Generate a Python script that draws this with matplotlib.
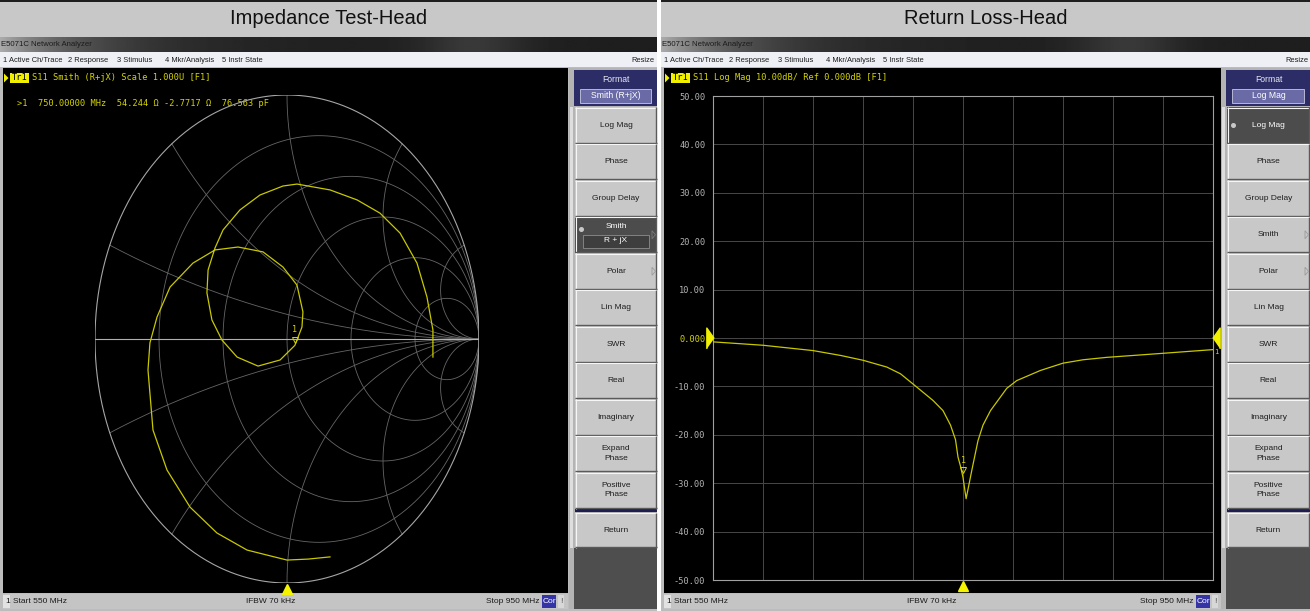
import numpy as np
import matplotlib.pyplot as plt
from matplotlib.patches import Rectangle, Polygon
from matplotlib.transforms import offset_copy

W, H = 1310, 611

# sweep settings / marker readout
freq_start = 550   # MHz
freq_stop = 950
ifbw = '70 kHz'
marker_freq = 750.0
marker_R = 54.244
marker_X = -2.7717
marker_C = 76.563
marker_db = -28.822

# S11 on the Smith chart (reflection coefficient, 550 -> 950 MHz)
smith_re = [0.224, 0.110, 0.000, -0.208, -0.365, -0.505, -0.625, -0.698, -0.724, -0.714,
            -0.677, -0.609, -0.490, -0.375, -0.255, -0.125, -0.021, 0.052, 0.083, 0.078,
            0.041, -0.036, -0.151, -0.260, -0.339, -0.391, -0.417, -0.411, -0.375, -0.333,
            -0.245, -0.141, -0.021, 0.052, 0.224, 0.365, 0.484, 0.589, 0.677, 0.729,
            0.760, 0.760]
smith_im = [-0.893, -0.902, -0.906, -0.865, -0.795, -0.689, -0.537, -0.373, -0.127, -0.016,
            0.090, 0.213, 0.311, 0.365, 0.377, 0.357, 0.295, 0.221, 0.111, 0.049,
            -0.026, -0.086, -0.111, -0.074, -0.004, 0.078, 0.189, 0.283, 0.373, 0.447,
            0.529, 0.590, 0.627, 0.635, 0.611, 0.570, 0.516, 0.434, 0.311, 0.172,
            0.037, -0.074]

# S11 log magnitude
logmag_freq = [550, 590, 630, 652, 670, 689, 700, 710, 718, 726, 734, 740, 744, 746, 748,
               750, 752.5, 757, 762, 766, 772, 785, 793, 812, 830, 846, 865, 908, 950]
logmag_db = [-0.8, -1.5, -2.6, -3.6, -4.6, -6.0, -7.4, -9.5, -11.2, -12.9, -15.0, -18.0,
             -21.0, -24.6, -26.5, -28.8, -33.2, -27.4, -21.2, -18.0, -15.0, -10.4, -8.8,
             -6.7, -5.2, -4.5, -4.0, -3.2, -2.4]

smith_r = [0.2, 0.5, 1, 2, 5]
smith_x = [0.2, 0.5, 1, 2, 5]
db_ticks = [50, 40, 30, 20, 10, 0, -10, -20, -30, -40, -50]
softkeys = ['Log Mag', 'Phase', 'Group Delay', 'Smith', 'Polar', 'Lin Mag', 'SWR', 'Real',
            'Imaginary', 'Expand\nPhase', 'Positive\nPhase']
menu_items = ['1 Active Ch/Trace', '2 Response', '3 Stimulus', '4 Mkr/Analysis', '5 Instr State']
menu_x = [3, 68, 117, 165, 222]

YEL = '#d4d400'
TRACE = '#c8c800'
UI = 'Liberation Sans'
MONO = 'DejaVu Sans Mono'

fig = plt.figure(figsize=(W / 100, H / 100), dpi=100)
fig.patch.set_facecolor('white')
bg = fig.add_axes([0, 0, 1, 1])
bg.axis('off')


def rect(x0, y0, x1, y1, fc, ec='none', lw=0, z=1):
    bg.add_patch(Rectangle((x0, y0), x1 - x0, y1 - y0, fc=fc, ec=ec, lw=lw, zorder=z))


def line(xs, ys, c, lw=0.8, z=3):
    bg.plot(xs, ys, color=c, lw=lw, zorder=z, solid_capstyle='butt')


def draw_panel(x0, x1, scr1, k0, title, fmt, selected):
    # caption band
    rect(x0, 0, x1, 37, '#c8c8c8')
    line([x0, x1], [0.8, 0.8], '#1a1a1a', 1.4)
    bg.text((x0 + x1) / 2, 19, title, ha='center', va='center', fontsize=14.5, family=UI, color='#111111')
    # window title bar
    xs = np.linspace(0, 1, 400)
    shade = 0.12 + 0.55 * np.exp(-xs * 8) + 0.10 * np.exp(-((xs - 0.72) / 0.08) ** 2)
    bg.imshow(np.tile(shade, (2, 1)), cmap='gray', vmin=0, vmax=1, extent=(x0, x1, 52, 37),
              aspect='auto', zorder=1, interpolation='bilinear')
    bg.text(x0 + 1, 45, 'E5071C Network Analyzer', ha='left', va='center', fontsize=5.6, family=UI, color='#1c1c1c', zorder=4)
    # menu bar
    rect(x0, 52, x1, 67, '#eef0f5')
    for lab, mx in zip(menu_items, menu_x):
        bg.text(x0 + mx, 60, lab, ha='left', va='center', fontsize=5.4, family=UI, color='#1a1a1a', zorder=4)
    bg.text(x1 - 2, 60, 'Resize', ha='right', va='center', fontsize=5.4, family=UI, color='#1a1a1a', zorder=4)
    # screen + frame
    rect(x0, 67, x1, 611, '#bcbcbc')
    rect(x0 + 3, 68, scr1, 593, 'black')
    # status bar
    rect(x0 + 3, 594, scr1, 609, '#c4c4c4')
    rect(x0 + 3, 595, x0 + 10, 608, '#e2e2e2')
    st = dict(va='center', fontsize=6, family=UI, color='#1a1a1a', zorder=4)
    bg.text(x0 + 5, 601.5, '1', ha='left', **st)
    bg.text(x0 + 13, 601.5, f'Start {freq_start} MHz', ha='left', **st)
    bg.text(x0 + 271, 601.5, f'IFBW {ifbw}', ha='center', **st)
    bg.text(scr1 - 28, 601.5, f'Stop {freq_stop} MHz', ha='right', **st)
    rect(scr1 - 26, 595, scr1 - 12, 608, '#3434a6')
    bg.text(scr1 - 19, 601.5, 'Cor', ha='center', va='center', fontsize=6, family=UI, color='white', zorder=4)
    rect(scr1 - 10, 595, scr1 - 4, 608, '#d8d8d8')
    bg.text(scr1 - 7, 601.5, '!', ha='center', va='center', fontsize=6, family=UI, color='#555555', zorder=4)
    # softkey column
    rect(k0 - 6, 68, x1, 609, '#b4b4b4')
    rect(k0 - 5, 107, k0 - 2, 548, '#dedede')
    rect(k0 - 1, 70, x1, 106, '#2c2c66')
    bg.text((k0 + x1) / 2, 80, 'Format', ha='center', va='center', fontsize=6.2, family=UI, color='#e8e8f4', zorder=4)
    rect(k0 + 5, 89, x1 - 6, 103, '#6a6aa6', ec='#c8c8e4', lw=0.6, z=2)
    bg.text((k0 + x1) / 2, 96, fmt, ha='center', va='center', fontsize=6.2, family=UI, color='white', zorder=4)
    step = 36.5
    for i, lab in enumerate(softkeys):
        t = 107 + i * step
        b = t + step
        draw_key(k0, x1, t, b, lab, selected == lab, lab in ('Smith', 'Polar'))
    rect(k0, 509, x1, 512, '#1e1e52', z=2)
    draw_key(k0, x1, 512.5, 548, 'Return', False, False)
    rect(k0 - 1, 548, x1, 609, '#4e4e4e', z=2)


def draw_key(k0, x1, t, b, lab, sel, arrow):
    fc = '#4c4c4c' if sel else '#c8c8c8'
    rect(k0, t, x1, b, fc, z=2)
    line([k0, x1], [t + 0.6, t + 0.6], '#f6f6f6', 0.8)
    line([k0 + 0.6, k0 + 0.6], [t, b], '#f6f6f6', 0.8)
    line([k0, x1], [b - 0.7, b - 0.7], '#5a5a5a', 1.0)
    line([x1 - 0.7, x1 - 0.7], [t, b], '#5a5a5a', 1.0)
    cx = (k0 + x1) / 2
    col = 'white' if sel else '#1e1e1e'
    if sel and lab == 'Smith':
        bg.text(cx, t + 10, lab, ha='center', va='center', fontsize=6.0, family=UI, color=col, zorder=4)
        rect(k0 + 8, t + 18, x1 - 8, t + 31, '#3e3e3e', ec='#8c8c8c', lw=0.6, z=3)
        bg.text(cx, t + 24.5, 'R + jX', ha='center', va='center', fontsize=6.0, family=UI, color=col, zorder=4)
    else:
        bg.text(cx, (t + b) / 2, lab, ha='center', va='center', fontsize=6.0, family=UI, color=col,
                linespacing=1.5, zorder=4)
    if sel:
        bg.plot(k0 + 6, (t + b) / 2 - (6 if lab == 'Smith' else 0), 'o', ms=2.6, color='#c8c8c8', zorder=5)
    if arrow:
        yc = (t + b) / 2
        bg.add_patch(Polygon([(x1 - 5, yc - 4), (x1 - 5, yc + 4), (x1 - 1.5, yc)], closed=True,
                             fc='none', ec='#9c9c9c' if not sel else '#7a7a7a', lw=0.6, zorder=5))


def trace_header(x0, text, readout, rx):
    bg.add_patch(Polygon([(x0 + 4, 73.5), (x0 + 4, 82.5), (x0 + 8.5, 78)], closed=True, fc='#f0f000', ec='none', zorder=4))
    rect(x0 + 10, 73, x0 + 29, 83, '#f0f000', z=4)
    bg.text(x0 + 19.5, 78, 'Tr1', ha='center', va='center', fontsize=6.2, family=MONO, color='black', zorder=5)
    bg.text(x0 + 32, 78, text, ha='left', va='center', fontsize=6.2, family=MONO, color=YEL, zorder=5)
    bg.text(rx, 104, readout, ha='left', va='center', fontsize=6.2, family=MONO, color=YEL, zorder=5)


draw_panel(0, 657, 568, 575, 'Impedance Test-Head', 'Smith (R+jX)', 'Smith')
draw_panel(661, 1310, 1222, 1227, 'Return Loss-Head', 'Log Mag', 'Log Mag')

trace_header(0, 'S11 Smith (R+jX) Scale 1.000U [F1]',
             f'>1  {marker_freq:.5f} MHz  {marker_R:.3f} \u03a9 {marker_X:.4f} \u03a9  {marker_C:.3f} pF', 17)
trace_header(661, 'S11 Log Mag 10.00dB/ Ref 0.000dB [F1]',
             f'>1  {marker_freq:.5f} MHz {marker_db:.3f} dB', 717)

bg.set_xlim(0, W)
bg.set_ylim(H, 0)

# ---------------- Smith chart ----------------
ax_s = fig.add_axes([95 / W, 1 - 583 / H, 384 / W, 488 / H])
ax_s.set_xlim(-1, 1)
ax_s.set_ylim(-1, 1)
ax_s.axis('off')
ax_s.patch.set_alpha(0)

u = np.tan(np.linspace(-np.pi / 2 + 1e-3, np.pi / 2 - 1e-3, 800))
for r in smith_r:
    g = (r + 1j * u - 1) / (r + 1j * u + 1)
    ax_s.plot(g.real, g.imag, color='#666666', lw=0.6, zorder=1)
v = np.tan(np.linspace(0, np.pi / 2 - 1e-3, 600))
for x in smith_x:
    for sx in (x, -x):
        g = (v + 1j * sx - 1) / (v + 1j * sx + 1)
        ax_s.plot(g.real, g.imag, color='#666666', lw=0.6, zorder=1)
t = np.linspace(0, 2 * np.pi, 500)
ax_s.plot(np.cos(t), np.sin(t), color='#a6a6a6', lw=0.8, zorder=2)
ax_s.plot([-1, 1], [0, 0], color='#b0b0b0', lw=0.8, zorder=2)

ax_s.plot(smith_re, smith_im, color=TRACE, lw=0.9, zorder=3)

zm = complex(marker_R, marker_X) / 50
gm = (zm - 1) / (zm + 1)
ax_s.plot(gm.real, gm.imag, marker='v', ms=5, mfc='none', mec=YEL, mew=0.7, zorder=4,
          transform=offset_copy(ax_s.transData, fig=fig, x=0, y=5, units='dots'))
ax_s.text(gm.real, gm.imag, '1', ha='center', va='center', fontsize=6, family=MONO, color=YEL, zorder=4,
          transform=offset_copy(ax_s.transData, fig=fig, x=0, y=16, units='dots'))
frac = (marker_freq - freq_start) / (freq_stop - freq_start)
ax_s.plot(frac * 2 - 1, -1, marker='^', ms=7, color='#f4f400', clip_on=False, zorder=5,
          transform=offset_copy(ax_s.transData, fig=fig, x=0, y=-6, units='dots'))

# ---------------- Log Mag ----------------
ax_l = fig.add_axes([713 / W, 1 - 580 / H, 500 / W, 484 / H])
ax_l.set_facecolor('black')
ax_l.plot(logmag_freq, logmag_db, color=TRACE, lw=0.9, zorder=3)
ax_l.set_xlim(freq_start, freq_stop)
ax_l.set_ylim(-50, 50)
ax_l.set_xticks(np.linspace(freq_start, freq_stop, 11))
ax_l.set_yticks(db_ticks)
ax_l.set_yticklabels(['0.000' if d == 0 else f'{d:.2f}' for d in db_ticks], family=MONO, fontsize=6.2)
ax_l.tick_params(length=0, labelbottom=False, pad=5.5, labelcolor='#b4b4b4')
for lab in ax_l.get_yticklabels():
    if lab.get_text() == '0.000':
        lab.set_color(YEL)
ax_l.grid(color='#484848', lw=0.7)
ax_l.set_axisbelow(True)
for s in ax_l.spines.values():
    s.set_color('#a0a0a0')
    s.set_linewidth(0.8)

tri_r = [(-0.35, -1), (-0.35, 1), (0.35, 0)]
tri_l = [(0.35, -1), (0.35, 1), (-0.35, 0)]
ax_l.plot(freq_start, 0, marker=tri_r, ms=15, color='#f0f000', clip_on=False, zorder=5,
          transform=offset_copy(ax_l.transData, fig=fig, x=-3, y=0, units='dots'))
ax_l.plot(freq_stop, 0, marker=tri_l, ms=15, color='#f0f000', clip_on=False, zorder=5,
          transform=offset_copy(ax_l.transData, fig=fig, x=3, y=0, units='dots'))
ax_l.text(freq_stop, logmag_db[-1], '1', ha='left', va='center', fontsize=5, family=MONO, color=YEL,
          clip_on=False, transform=offset_copy(ax_l.transData, fig=fig, x=1, y=-2, units='dots'))
ax_l.plot(marker_freq, marker_db, marker='v', ms=5, mfc='none', mec=YEL, mew=0.7, zorder=4,
          transform=offset_copy(ax_l.transData, fig=fig, x=0, y=7, units='dots'))
ax_l.text(marker_freq, marker_db, '1', ha='center', va='center', fontsize=6, family=MONO, color=YEL, zorder=4,
          transform=offset_copy(ax_l.transData, fig=fig, x=0, y=17, units='dots'))
ax_l.plot(marker_freq, -50, marker='^', ms=7, color='#f4f400', clip_on=False, zorder=5,
          transform=offset_copy(ax_l.transData, fig=fig, x=0, y=-6, units='dots'))

fig.savefig('out.png', dpi=100, facecolor=fig.get_facecolor())
